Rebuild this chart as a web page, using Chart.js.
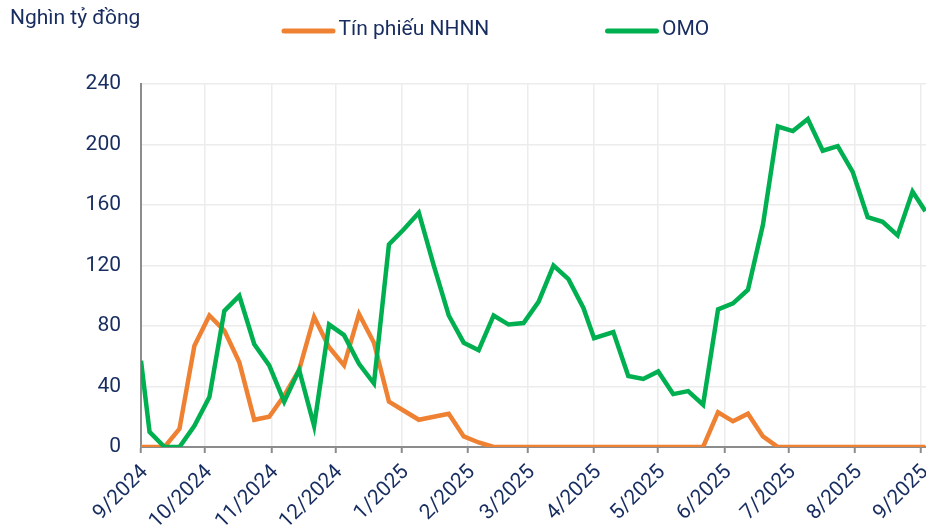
<!DOCTYPE html>
<html>
<head>
<meta charset="utf-8">
<script src="https://cdn.jsdelivr.net/npm/chart.js@4.4.1/dist/chart.umd.min.js"></script>
<style>
html,body{margin:0;padding:0;background:#ffffff;overflow:hidden}
#wrap{position:relative;width:926px;height:526px}
</style>
</head>
<body>
<div id="wrap"><canvas id="c" width="926" height="526"></canvas></div>
<script>
// ---- data ----
const unitLabel = 'Nghìn tỷ đồng';
const seriesNames = ['Tín phiếu NHNN', 'OMO'];
const dates = [
  '2024-09-01','2024-09-05','2024-09-12','2024-09-19','2024-09-26',
  '2024-10-03','2024-10-10','2024-10-17','2024-10-24','2024-10-31',
  '2024-11-07','2024-11-14','2024-11-21','2024-11-28',
  '2024-12-05','2024-12-12','2024-12-19','2024-12-26',
  '2025-01-02','2025-01-09','2025-01-16','2025-01-23','2025-01-30',
  '2025-02-06','2025-02-13','2025-02-20','2025-02-27',
  '2025-03-06','2025-03-13','2025-03-20','2025-03-27',
  '2025-04-01','2025-04-10','2025-04-17','2025-04-24',
  '2025-05-01','2025-05-08','2025-05-15','2025-05-22','2025-05-29',
  '2025-06-05','2025-06-12','2025-06-19','2025-06-26',
  '2025-07-03','2025-07-10','2025-07-17','2025-07-24','2025-07-31',
  '2025-08-07','2025-08-14','2025-08-21','2025-08-28','2025-09-03'
];
const tinPhieu = [
  0, 0, 0, 12, 67,
  87, 77, 56, 18, 20,
  34, 51, 86, 66,
  54, 88, 69, 30,
  24, 18, 20, 22, 7,
  3, 0, 0, 0,
  0, 0, 0, 0,
  0, 0, 0, 0,
  0, 0, 0, 0, 23,
  17, 22, 7, 0,
  0, 0, 0, 0, 0,
  0, 0, 0, 0, 0
];
const omo = [
  57, 10, 0, 0, 14,
  33, 90, 100, 68, 54,
  30, 51, 14, 81,
  74, 55, 42, 134,
  144, 155, 120, 87, 69,
  64, 87, 81, 82,
  96, 120, 111, 92,
  72, 76, 47, 45,
  50, 35, 37, 28, 91,
  95, 104, 147, 212,
  209, 217, 196, 199, 182,
  152, 149, 140, 169, 156
];
const monthTickDates = [
  '2024-09-01','2024-10-01','2024-11-01','2024-12-01','2025-01-01','2025-02-01',
  '2025-03-01','2025-04-01','2025-05-01','2025-06-01','2025-07-01','2025-08-01','2025-09-01'
];
const monthTickLabels = [
  '9/2024','10/2024','11/2024','12/2024','1/2025','2/2025',
  '3/2025','4/2025','5/2025','6/2025','7/2025','8/2025','9/2025'
];
const yTickValues = [0, 40, 80, 120, 160, 200, 240];

// ---- helpers ----
const startDate = Date.UTC(2024, 8, 1);
function dayOf(s) {
  const p = s.split('-').map(Number);
  return (Date.UTC(p[0], p[1] - 1, p[2]) - startDate) / 86400000;
}
const toPoints = vals => vals.map((v, i) => ({ x: dayOf(dates[i]), y: v }));

const TEXT = '#172c5f';
const GRID = '#ececec';
const AXIS = '#8c8c8c';
const FONT = 'Roboto';

const lineLegend = {
  id: 'lineLegend',
  afterDraw(chart, args, opts) {
    const ctx = chart.ctx;
    ctx.save();
    ctx.font = opts.fontSize + 'px ' + FONT;
    ctx.textBaseline = 'middle';
    ctx.textAlign = 'left';
    chart.data.datasets.forEach((ds, i) => {
      const x = opts.starts[i];
      ctx.strokeStyle = ds.borderColor;
      ctx.lineWidth = opts.lineWidth;
      ctx.lineCap = 'round';
      ctx.beginPath();
      ctx.moveTo(x, opts.y);
      ctx.lineTo(x + opts.lineLen, opts.y);
      ctx.stroke();
      ctx.fillStyle = opts.color;
      ctx.fillText(ds.label, x + opts.lineLen + opts.gap, opts.textY);
    });
    ctx.restore();
  }
};

new Chart(document.getElementById('c'), {
  type: 'line',
  data: {
    datasets: [
      { label: seriesNames[0], data: toPoints(tinPhieu), borderColor: '#ef8133', backgroundColor: '#ef8133',
        borderWidth: 4.5, pointRadius: 0, tension: 0, fill: false, order: 1 },
      { label: seriesNames[1], data: toPoints(omo), borderColor: '#00b050', backgroundColor: '#00b050',
        borderWidth: 4.5, pointRadius: 0, tension: 0, fill: false, order: 0 }
    ]
  },
  options: {
    responsive: false,
    animation: false,
    devicePixelRatio: 1,
    layout: { padding: { left: 10, right: 0, top: 0, bottom: 0 } },
    plugins: {
      legend: { display: false },
      tooltip: { enabled: false },
      title: {
        display: true, text: unitLabel, align: 'start', color: TEXT,
        font: { family: FONT, size: 21, weight: 'normal' },
        padding: { top: 6, bottom: 53 }
      },
      lineLegend: {
        starts: [284, 607.5], lineLen: 49, gap: 5.5, y: 31, textY: 30,
        lineWidth: 5, fontSize: 21, color: TEXT
      }
    },
    scales: {
      x: {
        type: 'linear',
        min: 0,
        max: 367.3,
        afterBuildTicks: s => { s.ticks = monthTickDates.map(d => ({ value: dayOf(d) })); },
        afterFit: s => { s.height = 79; s.paddingRight = 0; s.paddingLeft = 0; },
        ticks: {
          autoSkip: false, minRotation: 45, maxRotation: 45, padding: 7, labelOffset: 4,
          color: TEXT, font: { family: FONT, size: 21 },
          callback: (v, i) => monthTickLabels[i]
        },
        grid: { color: GRID, lineWidth: 1.5, drawTicks: true, tickLength: 6, tickColor: AXIS, tickWidth: 2 },
        border: { display: true, color: AXIS, width: 2 }
      },
      y: {
        min: 0,
        max: 240,
        afterBuildTicks: s => { s.ticks = yTickValues.map(v => ({ value: v })); },
        afterFit: s => { s.width = 131; },
        ticks: { padding: 20, color: TEXT, font: { family: FONT, size: 21 } },
        grid: { color: GRID, lineWidth: 1.5, drawTicks: false },
        border: { display: true, color: AXIS, width: 2 }
      }
    }
  },
  plugins: [lineLegend]
});
</script>
</body>
</html>
